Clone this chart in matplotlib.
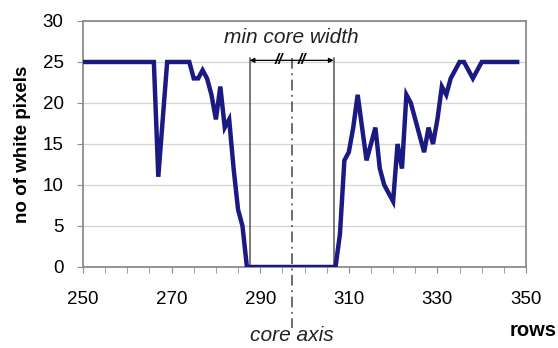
import numpy as np
import matplotlib.pyplot as plt

plt.rcParams['font.family'] = ['Liberation Sans', 'DejaVu Sans']

# white pixel count per row across the core
rows = np.arange(250, 349)
white_pixels = [
    25, 25, 25, 25, 25, 25, 25, 25, 25, 25,   # 250-259
    25, 25, 25, 25, 25, 25, 25, 11, 18, 25,   # 260-269
    25, 25, 25, 25, 25, 23, 23, 24, 23, 21,   # 270-279
    18, 22, 17, 18, 12, 7, 5, 0, 0, 0,        # 280-289
    0, 0, 0, 0, 0, 0, 0, 0, 0, 0,             # 290-299
    0, 0, 0, 0, 0, 0, 0, 0, 4, 13,            # 300-309
    14, 17, 21, 17, 13, 15, 17, 12, 10, 9,    # 310-319
    8, 15, 12, 21, 20, 18, 16, 14, 17, 15,    # 320-329
    18, 22, 21, 23, 24, 25, 25, 24, 23, 24,   # 330-339
    25, 25, 25, 25, 25, 25, 25, 25, 25,       # 340-348
]

core_left = 287.6
core_right = 306.6
core_axis = 297.1

fig = plt.figure(figsize=(5.58, 3.48), dpi=100)
ax = fig.add_axes([0.1487, 0.2328, 0.794, 0.7069])

frame_col = '#8c8c8c'
ax.set_xlim(250, 350)
ax.set_ylim(0, 30)
ax.set_xticks(np.arange(250, 351, 20))
ax.set_xticks(np.arange(250, 351, 5), minor=True)
ax.set_yticks(np.arange(0, 31, 5))
ax.yaxis.grid(True, color='#d4d4d4', lw=0.9)
ax.set_axisbelow(True)
for s in ax.spines.values():
    s.set_color(frame_col)
    s.set_linewidth(1.3)
ax.tick_params(axis='x', which='both', length=4, color=frame_col, pad=13, labelsize=13.5)
ax.tick_params(axis='y', length=4, color=frame_col, pad=10, labelsize=13.5)

# core width markers
ax.plot([core_left, core_left], [0, 25.5], color='#555555', lw=1.1)
ax.plot([core_right, core_right], [0, 25.5], color='#555555', lw=1.1)
ax.plot([core_axis, core_axis], [25.5, -7.4], color='#444444', lw=1.1,
        ls=(0, (7, 3, 1.2, 3)), clip_on=False)

ax.plot(rows, white_pixels, color='#1a1a82', lw=3.2, solid_joinstyle='miter', zorder=5)

ax.annotate('', xy=(core_left, 25.2), xytext=(core_right, 25.2),
            arrowprops=dict(arrowstyle='<|-|>', color='black', lw=0.9,
                            mutation_scale=7, shrinkA=0, shrinkB=0))
for bx in (core_axis - 3.0, core_axis + 2.4):
    ax.text(bx, 25.2, '//', ha='center', va='center', fontsize=11,
            fontweight='bold', style='italic', color='black')

ax.text(core_axis, 28.0, 'min core width', ha='center', va='center',
        style='italic', fontsize=15, color='#222222')
ax.text(core_axis, -8.3, 'core axis', ha='center', va='center',
        style='italic', fontsize=15, color='#222222', clip_on=False)

ax.set_ylabel('no of white pixels', fontsize=13.5, fontweight='bold', labelpad=8)
fig.text(0.998, 1 - 330 / 348, 'rows', ha='right', va='center',
         fontsize=14.5, fontweight='bold')

fig.savefig('out.png', dpi=100)
